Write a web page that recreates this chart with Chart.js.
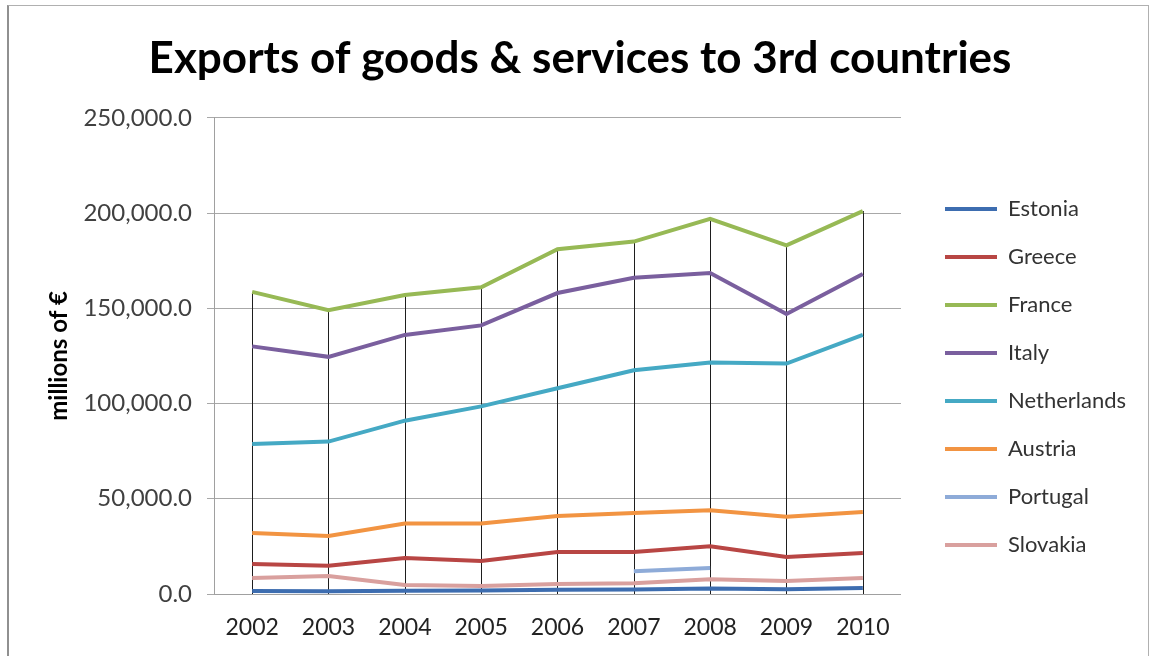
<!DOCTYPE html>
<html>
<head>
<meta charset="utf-8">
<script src="https://cdn.jsdelivr.net/npm/chart.js@4"></script>
<style>
    body { margin: 0; background: #fff; }
    #wrap { position: relative; width: 1155px; height: 656px; }
    #frame { position: absolute; left: 7px; top: 5px; width: 1142px; height: 660px; border: 1px solid #b0b0b0; border-left: 2px solid #909090; box-sizing: border-box; pointer-events: none; }
</style>
</head>
<body>
<div id="wrap">
    <canvas id="grafico"></canvas>
    <div id="frame"></div>
</div>
<script>
// anos no eixo x
const years = ['2002', '2003', '2004', '2005', '2006', '2007', '2008', '2009', '2010'];

// séries (milhões de €)
const estonia     = [1600, 1400, 1700, 1900, 2200, 2400, 2900, 2500, 3100];
const greece      = [15800, 14800, 18900, 17300, 22000, 22000, 25000, 19400, 21500];
const france      = [158600, 149000, 157000, 161000, 181000, 185000, 197000, 183000, 201000];
const italy       = [130000, 124500, 136000, 141000, 158000, 166000, 168500, 147000, 168000];
const netherlands = [78800, 80000, 91000, 98500, 108000, 117500, 121500, 121000, 136000];
const austria     = [32000, 30500, 37000, 37000, 41000, 42500, 44000, 40500, 43000];
const portugal    = [null, null, null, null, null, 12000, 13600, null, null];
const slovakia    = [8400, 9400, 4700, 4200, 5200, 5700, 7800, 6800, 8400];

const yTicks = [0, 50000, 100000, 150000, 200000, 250000];

const fonte = "'Lato', 'Open Sans', sans-serif";

// linhas verticais do ponto mais alto até o eixo
const dropLines = {
    id: 'dropLines',
    beforeDatasetsDraw(chart) {
        const ctx = chart.ctx;
        const x = chart.scales.x;
        const y = chart.scales.y;
        ctx.save();
        ctx.strokeStyle = '#1e1e1e';
        ctx.lineWidth = 1;
        years.forEach((_, i) => {
            const top = Math.max(...chart.data.datasets.map(d => d.data[i] ?? 0));
            const px = Math.round(x.getPixelForValue(i)) + 0.5;
            ctx.beginPath();
            ctx.moveTo(px, y.getPixelForValue(top));
            ctx.lineTo(px, y.bottom);
            ctx.stroke();
        });
        ctx.restore();
    }
};

// empurra a legenda para a posição do original
const moveLegend = {
    id: 'moveLegend',
    afterLayout(chart) {
        const l = chart.legend;
        const dx = 945 - (l.left + l.options.labels.padding);
        const dy = 50;
        l.left += dx; l.right += dx;
        l.top += dy; l.bottom += dy;
    }
};

function serie(label, data, color) {
    return {
        label: label,
        data: data,
        borderColor: color,
        backgroundColor: color,
        borderWidth: 4,
        pointRadius: 0,
        tension: 0,
        spanGaps: false
    };
}

const ctx = document.getElementById('grafico').getContext('2d');
new Chart(ctx, {
    type: 'line',
    data: {
        labels: years,
        datasets: [
            serie('Estonia', estonia, '#3d6db0'),
            serie('Greece', greece, '#b84644'),
            serie('France', france, '#97b955'),
            serie('Italy', italy, '#7a5f9e'),
            serie('Netherlands', netherlands, '#45a9c4'),
            serie('Austria', austria, '#f29442'),
            serie('Portugal', portugal, '#8eabd8'),
            serie('Slovakia', slovakia, '#d9a09e')
        ]
    },
    options: {
        responsive: true,
        maintainAspectRatio: false,
        animation: false,
        layout: {
            padding: { left: 42, right: 37, top: 10, bottom: 12 }
        },
        plugins: {
            title: {
                display: true,
                text: 'Exports of goods & services to 3rd countries',
                color: '#000',
                font: { family: fonte, size: 44, weight: 'bold' },
                padding: { top: 22, bottom: 33 }
            },
            legend: {
                position: 'right',
                labels: {
                    usePointStyle: true,
                    pointStyle: 'line',
                    pointStyleWidth: 52,
                    color: '#333',
                    font: { family: fonte, size: 22 },
                    padding: 26
                }
            },
            tooltip: { enabled: false }
        },
        scales: {
            x: {
                offset: true,
                grid: { display: false, drawTicks: false },
                border: { display: true, color: '#a0a0a0' },
                ticks: {
                    color: '#222',
                    font: { family: fonte, size: 23 },
                    padding: 20
                },
                afterFit(scale) { scale.height = 50; }
            },
            y: {
                min: 0,
                max: 250000,
                afterBuildTicks(scale) { scale.ticks = yTicks.map(v => ({ value: v })); },
                grid: { color: '#a8a8a8', tickLength: 7 },
                border: { color: '#a0a0a0' },
                ticks: {
                    color: '#404040',
                    font: { family: fonte, size: 24 },
                    padding: 15,
                    callback: v => v.toLocaleString('en-US', { minimumFractionDigits: 1, maximumFractionDigits: 1 })
                },
                title: {
                    display: true,
                    text: 'millions of €',
                    color: '#000',
                    font: { family: fonte, size: 24, weight: 'bold' },
                    padding: { top: 3, bottom: 0 }
                },
                afterFit(scale) { scale.width = 172; }
            }
        }
    },
    plugins: [dropLines, moveLegend]
});
</script>
</body>
</html>
